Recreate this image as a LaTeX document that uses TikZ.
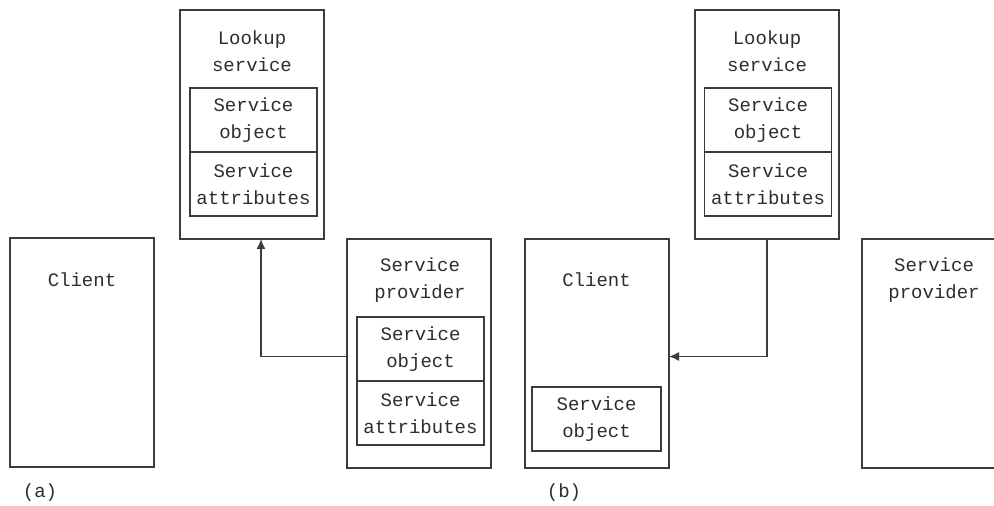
\documentclass[tikz,border=0pt]{standalone}
\usepackage{fontspec}
\setmonofont{Liberation Mono}
\usetikzlibrary{positioning,arrows.meta}

\begin{document}
\begin{tikzpicture}[x=0.5pt,y=-0.5pt]
% Define colors
\definecolor{edge}{RGB}{60,60,60}
\definecolor{ink}{RGB}{45,45,45}

\tikzset{
  txt/.style={font=\ttfamily\fontsize{9.5}{13.5}\selectfont, text=ink, align=center},
  outer/.style={draw=edge, line width=0.7pt, inner sep=0pt, outer sep=0pt,
    minimum width=72pt, minimum height=114.5pt},
  inner/.style={txt, draw=edge, line width=0.7pt, inner sep=0pt, outer sep=0pt,
    minimum width=63.5pt, minimum height=32pt},
  link/.style={draw=edge, line width=0.7pt, -{Latex[length=5pt,width=4.5pt]}}
}

\useasboundingbox (0,0) rectangle (994,506);

% Part (a): provider registers with the lookup service
\node[outer, anchor=north west] (lookA) at (180,10) {};
\node[txt] (lookAtitle) at (252,51.5) {Lookup\\service};
\node[inner, anchor=north] (objA) at (253.5,88) {Service\\object};
\node[inner, below=0pt of objA] (attrA) {Service\\attributes};

\node[outer, anchor=north west] (clientA) at (10,238) {};
\node[txt] (clientAtitle) at (82,280) {Client};

\node[outer, anchor=north west] (provA) at (347,239) {};
\node[txt] (provAtitle) at (420,280.5) {Service\\provider};
\node[inner, anchor=north] (objP) at (420.5,317) {Service\\object};
\node[inner, below=0pt of objP] (attrP) {Service\\attributes};

\draw[link] ([yshift=-1.5pt]provA.west) -| ([xshift=4.5pt]lookA.south);

\node[txt] (capA) at (40,493) {(a)};

% Part (b): client receives the service object
\node[outer, anchor=north west] (lookB) at (695,10) {};
\node[txt] (lookBtitle) at (767,51.5) {Lookup\\service};
\node[inner, anchor=north] (objB) at (768,88) {Service\\object};
\node[inner, below=0pt of objB] (attrB) {Service\\attributes};

\node[outer, anchor=north west] (clientB) at (525,239) {};
\node[txt] (clientBtitle) at (596.5,280) {Client};
\node[inner, anchor=north, minimum width=64.5pt] (objC) at (596.5,387) {Service\\object};

\node[outer, anchor=north west] (provB) at (862,239) {};
\node[txt] (provBtitle) at (934,280.5) {Service\\provider};

\draw[link] (lookB.south) |- ([yshift=-1.5pt]clientB.east);

\node[txt] (capB) at (564,493) {(b)};
\end{tikzpicture}
\end{document}
